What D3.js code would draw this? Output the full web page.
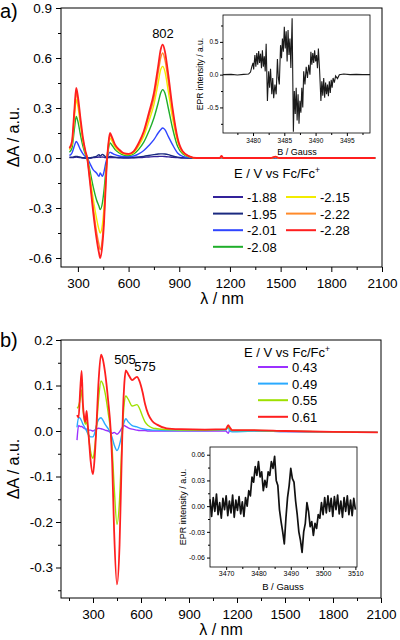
<!DOCTYPE html>
<html>
<head>
<meta charset="utf-8">
<script src="https://cdn.jsdelivr.net/npm/d3@7"></script>
<style>
  body { margin: 0; background: #fff; }
  svg { font-family: "Liberation Sans", Arial, Helvetica, sans-serif; }
</style>
</head>
<body>
<svg id="chart" width="400" height="640"></svg>
<script>
// ---------- panel a: spectroelectrochemistry (reduction) ----------
const wlA = [250, 265, 280, 290, 300, 315, 330, 345, 355, 370, 390, 410, 425, 432, 445, 455, 465, 473, 480, 490,
    500, 520, 545, 570, 600, 630, 660, 690, 720, 750, 775, 790, 802, 815, 835, 860, 890, 920, 960, 1000,
    1100, 1140, 1150, 1160, 1200, 1440, 1470, 1490, 1600, 1800, 2060];
const aM188 = [0.002, 0.002, 0.004, 0.005, 0.004, 0.002, 0, 0, 0, 0, 0.002, 0.004, 0.006, 0.004, 0.006, 0.004, 0.002, 0, 0.002, 0.003,
    0.003, 0.002, 0.001, 0, 0, 0.001, 0.002, 0.004, 0.006, 0.008, 0.009, 0.01, 0.01, 0.009, 0.007, 0.004, 0.002, 0, 0, 0,
    0, 0, 0.002, 0, 0, 0, 0.001, 0, 0, 0, 0];
const aM195 = [0.005, 0.005, 0.008, 0.01, 0.008, 0.005, 0.002, 0, 0, 0, 0.005, 0.01, 0.02, 0.012, 0.022, 0.015, 0.005, 0, 0.005, 0.01,
    0.008, 0.005, 0.003, 0.002, 0.002, 0.003, 0.006, 0.01, 0.015, 0.02, 0.024, 0.025, 0.025, 0.024, 0.02, 0.012, 0.005, 0.002, 0, 0,
    0, 0, 0.003, 0, 0, 0, 0.002, 0, 0, 0, 0];
const aM201 = [0.015, 0.03, 0.075, 0.10, 0.085, 0.05, 0.025, 0.008, 0, -0.03, -0.07, -0.09, -0.11, -0.09, -0.11, -0.08, -0.03, 0, 0.02, 0.035,
    0.03, 0.02, 0.012, 0.008, 0.008, 0.012, 0.025, 0.045, 0.075, 0.11, 0.15, 0.17, 0.18, 0.17, 0.13, 0.08, 0.03, 0.01, 0.002, 0,
    0, 0, 0.005, 0, 0, 0, 0.003, 0, 0, 0, 0];
const aM208 = [0.035, 0.06, 0.18, 0.25, 0.22, 0.14, 0.07, 0.02, 0, -0.07, -0.17, -0.25, -0.29, -0.31, -0.27, -0.19, -0.08, 0, 0.05, 0.09,
    0.08, 0.05, 0.03, 0.018, 0.015, 0.024, 0.052, 0.095, 0.16, 0.24, 0.33, 0.39, 0.41, 0.39, 0.30, 0.18, 0.07, 0.025, 0.006, 0,
    0, 0, 0.006, 0, 0, 0, 0.004, 0, 0, 0, 0];
const aM215 = [0.05, 0.08, 0.25, 0.35, 0.31, 0.20, 0.10, 0.03, 0, -0.10, -0.24, -0.36, -0.43, -0.45, -0.40, -0.29, -0.12, 0, 0.065, 0.12,
    0.105, 0.065, 0.04, 0.025, 0.02, 0.032, 0.072, 0.13, 0.22, 0.32, 0.45, 0.53, 0.55, 0.52, 0.40, 0.24, 0.10, 0.032, 0.008, 0,
    0, 0, 0.008, 0, 0, 0, 0.005, 0, 0, 0, 0];
const aM222 = [0.055, 0.09, 0.28, 0.39, 0.34, 0.22, 0.11, 0.035, 0, -0.12, -0.29, -0.44, -0.52, -0.55, -0.48, -0.35, -0.15, 0, 0.075, 0.14,
    0.12, 0.075, 0.045, 0.028, 0.023, 0.037, 0.083, 0.15, 0.25, 0.36, 0.51, 0.60, 0.63, 0.59, 0.46, 0.28, 0.11, 0.037, 0.01, 0,
    0, 0, 0.01, 0, 0, 0, 0.006, 0, 0, 0, 0];
const aM228 = [0.06, 0.10, 0.30, 0.42, 0.37, 0.24, 0.12, 0.04, 0, -0.13, -0.32, -0.48, -0.57, -0.60, -0.52, -0.38, -0.16, 0, 0.08, 0.15,
    0.13, 0.08, 0.05, 0.03, 0.025, 0.04, 0.09, 0.16, 0.27, 0.39, 0.55, 0.65, 0.68, 0.64, 0.50, 0.30, 0.12, 0.04, 0.01, 0,
    0, 0, 0.012, 0, 0, 0, 0.008, 0, 0, 0, 0];
const labelsA = ["-1.88", "-1.95", "-2.01", "-2.08", "-2.15", "-2.22", "-2.28"];
const colorsA = ["#33229a", "#1b2a80", "#2f45ff", "#1fae2a", "#f2ec00", "#ff8a2a", "#ff1f1f"];

// EPR inset a
const eprAField = [3475.2, 3476.5, 3477.5, 3478.5, 3479.3, 3479.6, 3479.8, 3480.0, 3480.1, 3480.3,
    3480.45, 3480.6, 3480.75, 3480.9, 3481.05, 3481.2, 3481.35, 3481.5, 3481.65, 3481.8,
    3481.95, 3482.1, 3482.3, 3482.5, 3482.65, 3482.8, 3483.0, 3483.15, 3483.3, 3483.5,
    3483.7, 3483.9, 3484.05, 3484.2, 3484.4, 3484.55, 3484.7, 3484.85, 3485.0, 3485.15,
    3485.3, 3485.45, 3485.6, 3485.75, 3485.9, 3486.05, 3486.25, 3486.45, 3486.6, 3486.75,
    3486.9, 3487.05, 3487.2, 3487.35, 3487.5, 3487.65, 3487.8, 3487.95, 3488.1, 3488.3,
    3488.5, 3488.7, 3488.9, 3489.1, 3489.25, 3489.4, 3489.55, 3489.7, 3489.85, 3490.0,
    3490.15, 3490.3, 3490.45, 3490.65, 3490.85, 3491.0, 3491.15, 3491.3, 3491.45, 3491.6,
    3491.75, 3491.9, 3492.05, 3492.2, 3492.35, 3492.5, 3492.65, 3492.8, 3493.0, 3493.2,
    3493.5, 3493.8, 3494.5, 3495.5, 3496.5, 3497.5, 3498.7];
const eprAValue = [0, 0.005, -0.005, 0.005, 0.01, 0.04, 0.12, 0.18, 0.08, 0.30,
    0.12, 0.33, 0.15, 0.36, 0.18, 0.32, 0.10, 0.37, 0.12, 0.28,
    0.05, 0.47, -0.40, 0.05, -0.20, 0.09, -0.30, -0.05, -0.36, -0.15,
    -0.30, 0.24, -0.05, -0.15, 0.45, 0.25, 0.55, 0.35, 0.73, 0.40,
    0.66, 0.20, 0.68, 0.30, 0.55, 0.10, 0.86, -0.87, -0.25, -0.60,
    -0.20, -0.70, -0.30, -0.75, -0.40, -0.58, -0.20, -0.50, 0.05, -0.15,
    0.12, -0.05, 0.15, 0, 0.35, 0.15, 0.33, 0.18, 0.37, 0.20,
    0.30, 0.10, 0.40, 0.05, -0.40, -0.10, -0.32, -0.05, -0.35, -0.12,
    -0.30, -0.15, -0.33, -0.10, -0.28, -0.08, -0.20, -0.05, -0.12, -0.02,
    -0.06, 0, 0.01, 0, 0.005, 0, 0];

// ---------- panel b: spectroelectrochemistry (oxidation) ----------
const wlB = [200, 210, 220, 229, 237, 245, 252, 260, 266, 275, 285, 300, 310, 320, 335, 350, 360, 375, 395, 410,
    420, 432, 450, 466, 478, 487, 495, 505, 520, 545, 575, 590, 610, 625, 645, 670, 700, 760, 850, 1000,
    1130, 1145, 1155, 1170, 1300, 1500, 1800, 2080];
const bP043 = [-0.02, 0.012, 0.01, 0.01, 0.008, 0.006, 0.005, 0.004, 0.003, 0.002, 0.002, 0, 0.002, 0.004, 0.006, 0.005, 0.004, 0.002, 0, -0.003,
    -0.005, -0.003, -0.007, -0.002, 0.005, 0.01, 0.012, 0.01, 0.007, 0.004, 0.002, 0.001, 0.001, 0.001, 0, 0, 0, 0, 0, 0,
    0, -0.005, 0.002, 0, 0, -0.001, -0.002, -0.003];
const bP049 = [0.008, 0.03, 0.028, 0.022, 0.015, 0.01, 0.005, 0, -0.005, -0.01, -0.013, -0.013, -0.005, 0.01, 0.025, 0.029, 0.025, 0.015, 0.005, -0.005,
    -0.015, -0.03, -0.043, -0.03, -0.01, 0.01, 0.02, 0.027, 0.02, 0.012, 0.009, 0.007, 0.005, 0.004, 0.003, 0.002, 0.002, 0.001, 0.001, 0.001,
    0.002, 0.008, 0, -0.002, 0, -0.001, -0.002, -0.003];
const bP055 = [0.05, 0.055, 0.07, 0.09, 0.05, 0.025, 0.015, 0.02, 0.01, -0.02, -0.045, -0.06, -0.04, 0, 0.07, 0.11, 0.105, 0.085, 0.04, 0,
    -0.04, -0.12, -0.205, -0.15, -0.05, 0.02, 0.06, 0.077, 0.07, 0.055, 0.058, 0.05, 0.032, 0.02, 0.012, 0.007, 0.005, 0.003, 0.002, 0.002,
    0.003, 0.01, 0.005, 0.001, 0.001, 0, -0.002, -0.003];
const bP061 = [0.035, 0.03, 0.09, 0.132, 0.06, 0.03, 0.02, 0.044, 0.02, -0.02, -0.065, -0.095, -0.06, 0, 0.11, 0.168, 0.16, 0.13, 0.066, 0.005,
    -0.07, -0.22, -0.337, -0.25, -0.08, 0.04, 0.10, 0.133, 0.125, 0.112, 0.119, 0.11, 0.085, 0.06, 0.037, 0.022, 0.014, 0.006, 0.004, 0.003,
    0.004, 0.013, 0.008, 0.002, 0.002, 0, -0.002, -0.003];
const labelsB = ["0.43", "0.49", "0.55", "0.61"];
const colorsB = ["#9b30ff", "#2aaaff", "#9ee000", "#ff1f1f"];

// EPR inset b (noisy trace, field step 0.5 G from 3465 G)
const eprBValue = [0.008, -0.012, 0.010, -0.006, 0.014, -0.010, 0.004, -0.014, 0.009, -0.004, 0.012, -0.011, 0.006, -0.008,
    0.013, -0.013, 0.007, -0.005, 0.011, -0.009, 0.005, -0.012, 0.010, 0.000, 0.018, 0.012, 0.034, 0.028, 0.046, 0.036,
    0.052, 0.034, 0.040, 0.018, 0.030, 0.022, 0.040, 0.036, 0.052, 0.044, 0.058, 0.030, 0.024, -0.004, -0.018, -0.030,
    -0.044, -0.014, 0.010, 0.024, 0.044, 0.032, 0.028, 0.006, -0.010, -0.030, -0.040, -0.054, -0.030, -0.020, 0.004,
    -0.006, -0.024, -0.018, -0.034, -0.020, -0.026, -0.010, -0.014, 0.004, -0.010, 0.010, -0.008, 0.012, -0.006, 0.009,
    -0.012, 0.011, -0.004, 0.013, -0.009, 0.006, -0.013, 0.010, -0.006, 0.012, -0.010, 0.007, -0.011, 0.009, -0.004];
const eprBField = eprBValue.map((v, i) => 3465 + i * 0.5);

const svg = d3.select("#chart");

// Axes with major + minor ticks, box frame
function drawAxes(x, y, o) {
    const g = svg.append("g");
    const x0 = x.range()[0], x1 = x.range()[1];
    const yb = y.range()[0], yt = y.range()[1];

    g.append("g")
        .attr("transform", "translate(0," + yb + ")")
        .call(d3.axisBottom(x).tickValues(o.xTicks).tickSize(o.tick).tickSizeOuter(0)
            .tickPadding(o.xPad).tickFormat(o.xFmt));
    g.append("g")
        .attr("transform", "translate(0," + yb + ")")
        .call(d3.axisBottom(x).tickValues(o.xMinor).tickSize(o.minor).tickSizeOuter(0).tickFormat(""));
    g.append("g")
        .attr("transform", "translate(" + x0 + ",0)")
        .call(d3.axisLeft(y).tickValues(o.yTicks).tickSize(o.tick).tickSizeOuter(0)
            .tickPadding(o.yPad).tickFormat(o.yFmt));
    g.append("g")
        .attr("transform", "translate(" + x0 + ",0)")
        .call(d3.axisLeft(y).tickValues(o.yMinor).tickSize(o.minor).tickSizeOuter(0).tickFormat(""));

    g.selectAll(".domain").remove();
    g.selectAll("g").attr("font-family", null).attr("font-size", o.fs);
    g.selectAll(".tick text").attr("fill", "#000");

    g.append("rect")
        .attr("x", x0).attr("y", yt)
        .attr("width", x1 - x0).attr("height", yb - yt)
        .attr("fill", "none").attr("stroke", "#000").attr("stroke-width", o.frame || 1);
    return g;
}

function addText(txt, x, y, size, opts) {
    opts = opts || {};
    const t = svg.append("text")
        .attr("x", x).attr("y", y)
        .attr("font-size", size)
        .attr("text-anchor", opts.anchor || "middle")
        .attr("fill", "#000")
        .text(txt);
    if (opts.rotate) t.attr("transform", "rotate(-90," + x + "," + y + ")");
    return t;
}

function legendHeader(x, y) {
    const t = svg.append("text")
        .attr("x", x).attr("y", y)
        .attr("font-size", 13)
        .attr("text-anchor", "middle")
        .text("E / V vs Fc/Fc");
    t.append("tspan").attr("font-size", 8.5).attr("dy", -5.5).text("+");
}

function plotSpectra(x, y, wl, series, colors) {
    const line = d3.line()
        .x(d => x(d[0]))
        .y(d => y(d[1]))
        .curve(d3.curveMonotoneX);
    series.forEach(function (vals, i) {
        svg.append("path")
            .datum(wl.map((w, j) => [w, vals[j]]))
            .attr("d", line)
            .attr("fill", "none")
            .attr("stroke", colors[i])
            .attr("stroke-width", i === series.length - 1 ? 1.8 : 1.4)
            .attr("stroke-linejoin", "round");
    });
}

const fmt1 = d => d.toFixed(1);
const fmt2 = d => d.toFixed(2);
const fmt0 = d => String(d);

// ===== panel a =====
const xA = d3.scaleLinear().domain([200, 2100]).range([61, 382]);
const yA = d3.scaleLinear().domain([-0.654, 0.9]).range([267, 8]);
drawAxes(xA, yA, {
    xTicks: d3.range(300, 2101, 300), xMinor: d3.range(450, 2000, 300),
    yTicks: [-0.6, -0.3, 0, 0.3, 0.6, 0.9], yMinor: [-0.45, -0.15, 0.15, 0.45, 0.75],
    tick: 5, minor: 3, xPad: 6, yPad: 4, fs: 13.5, xFmt: fmt0, yFmt: fmt1
});
plotSpectra(xA, yA, wlA, [aM188, aM195, aM201, aM208, aM215, aM222, aM228], colorsA);

addText("a)", 0, 18, 20, {anchor: "start"});
addText("\u0394A / a.u.", 19, 137, 16, {rotate: true});
addText("\u03bb / nm", 222, 304, 16);
addText("802", 163, 38, 13);

// legend a
legendHeader(277, 178);
labelsA.forEach(function (lab, i) {
    const col = i < 4 ? 0 : 1;
    const row = i < 4 ? i : i - 4;
    const lx = col === 0 ? 213 : 286;
    const ly = 197 + row * 16.6;
    svg.append("line").attr("x1", lx).attr("x2", lx + 30).attr("y1", ly).attr("y2", ly)
        .attr("stroke", colorsA[i]).attr("stroke-width", 2);
    addText(lab, lx + 34, ly + 5, 13, {anchor: "start"});
});

// inset a: EPR
const xEa = d3.scaleLinear().domain([3475.2, 3498.7]).range([223, 370]);
const yEa = d3.scaleLinear().domain([-0.89, 0.91]).range([133, 15]);
drawAxes(xEa, yEa, {
    xTicks: [3480, 3485, 3490, 3495], xMinor: [3477.5, 3482.5, 3487.5, 3492.5, 3497.5],
    yTicks: [-0.5, 0, 0.5], yMinor: [-0.75, -0.25, 0.25, 0.75],
    tick: 3, minor: 2, xPad: 2, yPad: 1.5, fs: 6.5, xFmt: fmt0, yFmt: fmt1, frame: 0.8
});
svg.append("path")
    .datum(eprAField.map((f, i) => [f, eprAValue[i]]))
    .attr("d", d3.line().x(d => xEa(d[0])).y(d => yEa(d[1])))
    .attr("fill", "none").attr("stroke", "#1a1a1a").attr("stroke-width", 1.1);
addText("EPR intensity / a.u.", 203, 74, 8.5, {rotate: true});
addText("B / Gauss", 297, 155, 9);

// ===== panel b =====
const xB = d3.scaleLinear().domain([100, 2100]).range([61, 381]);
const yB = d3.scaleLinear().domain([-0.367, 0.2]).range([598, 340]);
drawAxes(xB, yB, {
    xTicks: d3.range(300, 2101, 300), xMinor: d3.range(150, 2000, 300),
    yTicks: [-0.3, -0.2, -0.1, 0, 0.1, 0.2], yMinor: [-0.35, -0.25, -0.15, -0.05, 0.05, 0.15],
    tick: 5, minor: 3, xPad: 6, yPad: 3, fs: 13.5, xFmt: fmt0, yFmt: fmt1
});
plotSpectra(xB, yB, wlB, [bP043, bP049, bP055, bP061], colorsB);

addText("b)", 0, 347, 20, {anchor: "start"});
addText("\u0394A / a.u.", 19, 469, 16, {rotate: true});
addText("\u03bb / nm", 221, 635, 16);
addText("505", 125, 364, 13);
addText("575", 145, 371, 13);

// legend b
legendHeader(287, 357);
labelsB.forEach(function (lab, i) {
    const ly = 367 + i * 16.6;
    svg.append("line").attr("x1", 258).attr("x2", 288).attr("y1", ly).attr("y2", ly)
        .attr("stroke", colorsB[i]).attr("stroke-width", 2);
    addText(lab, 292, ly + 5, 13, {anchor: "start"});
});

// inset b: EPR
const xEb = d3.scaleLinear().domain([3465, 3510.5]).range([210, 357]);
const yEb = d3.scaleLinear().domain([-0.071, 0.069]).range([567, 447]);
drawAxes(xEb, yEb, {
    xTicks: [3470, 3480, 3490, 3500, 3510], xMinor: [3475, 3485, 3495, 3505],
    tick: 3, minor: 2, xPad: 1, yPad: 2, fs: 7, xFmt: fmt0, yFmt: fmt2, frame: 0.8,
    yTicks: [-0.06, -0.03, 0, 0.03, 0.06], yMinor: [-0.045, -0.015, 0.015, 0.045]
});
svg.append("path")
    .datum(eprBField.map((f, i) => [f, eprBValue[i]]))
    .attr("d", d3.line().x(d => xEb(d[0])).y(d => yEb(d[1])))
    .attr("fill", "none").attr("stroke", "#111").attr("stroke-width", 1.7)
    .attr("stroke-linejoin", "round");
addText("EPR intensity / a.u.", 186, 507, 9, {rotate: true});
addText("B / Gauss", 283, 590, 9.5);
</script>
</body>
</html>
